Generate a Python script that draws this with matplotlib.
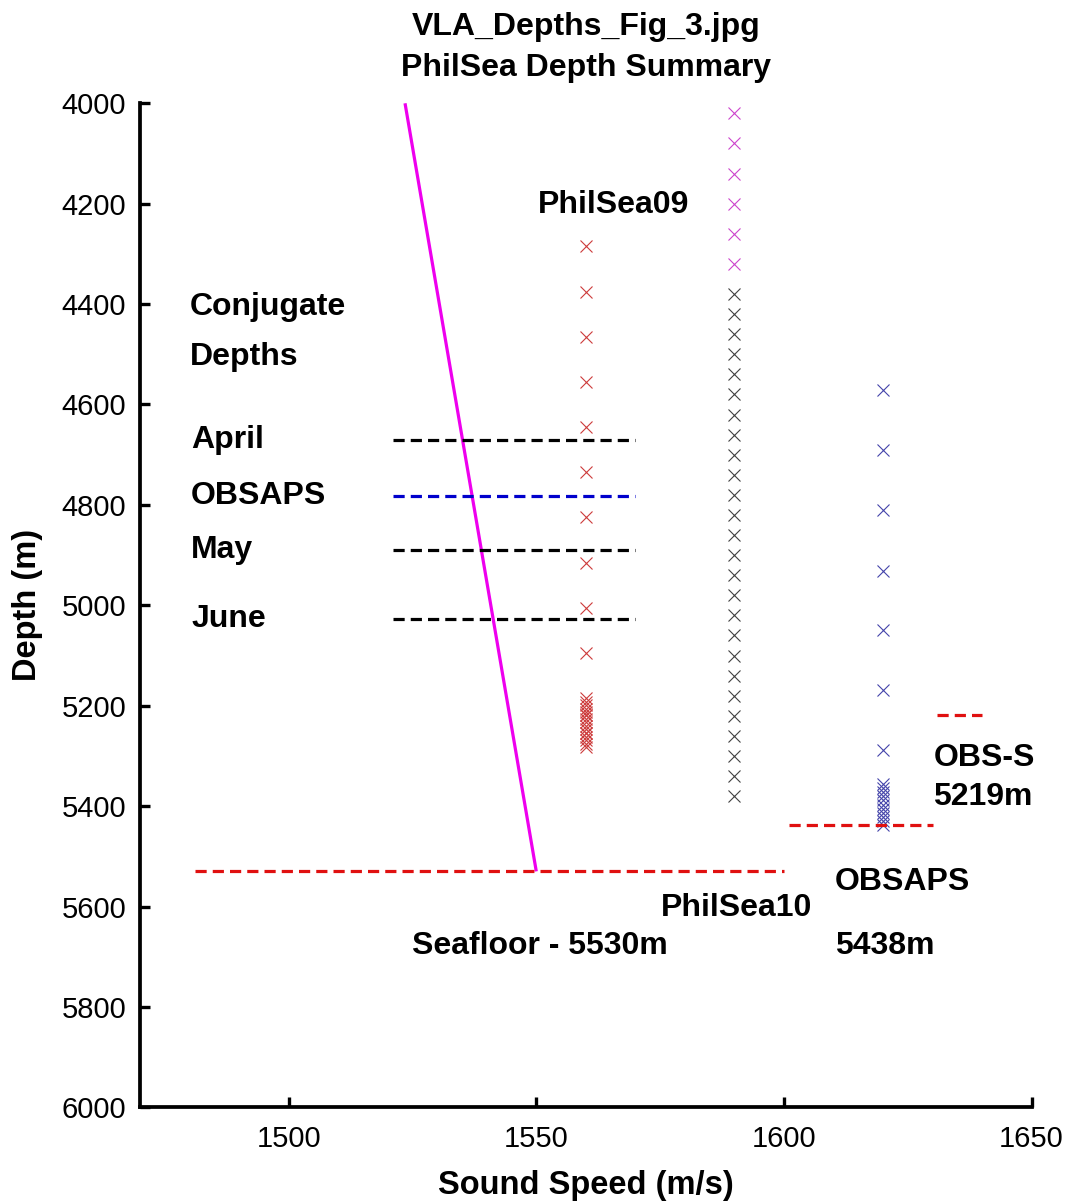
#!/usr/bin/env python3
"""PhilSea depth summary: VLA hydrophone depths, conjugate depths, seafloor."""

import matplotlib
matplotlib.use("Agg")
import matplotlib.pyplot as plt

plt.rcParams["font.family"] = ["Liberation Sans", "DejaVu Sans"]

# sound speed profile near the bottom (m/s, m)
ssp_speed = [1523.5, 1550.0]
ssp_depth = [4000, 5530]

# PhilSea09 hydrophones (plotted at 1560 m/s)
ps09_speed = 1560
ps09_depths = [4285, 4375, 4465, 4555, 4645, 4735, 4825, 4915, 5005, 5095,
               5185, 5192, 5199, 5206, 5213, 5219, 5219, 5226, 5233, 5240,
               5247, 5255, 5255, 5262, 5269, 5276, 5283]

# PhilSea10 hydrophones (plotted at 1590 m/s), upper ones and main array
ps10_speed = 1590
ps10_upper = [4020, 4080, 4140, 4200, 4260, 4320]
ps10_main = [4380 + 40 * i for i in range(26)]

# OBSAPS hydrophones (plotted at 1620 m/s)
obsaps_speed = 1620
obsaps_depths = [4572, 4691, 4811, 4931, 5050, 5169, 5289,
                 5355, 5363, 5372, 5380, 5388, 5397, 5405, 5413, 5422, 5430, 5438]

# conjugate depths
conj_names = ["April", "OBSAPS", "May", "June"]
conj_depths = [4671, 4783, 4890, 5028]
conj_colors = ["black", "#0000cc", "black", "black"]
conj_span = [1521, 1570]

# bottom / instrument depths
seafloor_depth = 5530
seafloor_span = [1481, 1600]
obsaps_bottom = 5438
obsaps_span = [1601, 1630]
obss_depth = 5219
obss_span = [1631, 1640]

fig = plt.figure(figsize=(10.69, 12.01), dpi=100)
ax = fig.add_axes([0.131, 0.078, 0.834, 0.836])

lw = 2.3
dash = (3.5, 1.9)
mk = dict(marker="x", linestyle="none", markersize=8, markeredgewidth=0.8)

ax.plot(ssp_speed, ssp_depth, color="#ee00ee", lw=lw, solid_capstyle="butt")

ax.plot([ps09_speed] * len(ps09_depths), ps09_depths, color="#cc3b3b", **mk)
ax.plot([ps10_speed] * len(ps10_upper), ps10_upper, color="#cc44cc", **mk)
ax.plot([ps10_speed] * len(ps10_main), ps10_main, color="#404040", **mk)
ax.plot([obsaps_speed] * len(obsaps_depths), obsaps_depths, color="#4444aa", **mk)

for name, d, c in zip(conj_names, conj_depths, conj_colors):
    ax.plot(conj_span, [d, d], color=c, lw=lw, dashes=dash)
    ax.text(1480.3, d, name, fontsize=23, fontweight="bold", va="center", ha="left")

red = "#e01010"
ax.plot(seafloor_span, [seafloor_depth] * 2, color=red, lw=lw, dashes=dash)
ax.plot(obsaps_span, [obsaps_bottom] * 2, color=red, lw=lw, dashes=dash)
ax.plot(obss_span, [obss_depth] * 2, color=red, lw=lw, dashes=dash)

txt = dict(fontsize=23, fontweight="bold", va="center", ha="left")
ax.text(1550.3, 4203, "PhilSea09", **txt)
ax.text(1480.0, 4405, "Conjugate", **txt)
ax.text(1480.0, 4505, "Depths", **txt)
ax.text(1630.2, 5305, "OBS-S", **txt)
ax.text(1630.2, 5382, f"{obss_depth}m", **txt)
ax.text(1610.3, 5552, "OBSAPS", **txt)
ax.text(1610.3, 5679, f"{obsaps_bottom}m", **txt)
ax.text(1575.2, 5602, "PhilSea10", **txt)
ax.text(1525.0, 5679, f"Seafloor - {seafloor_depth}m", **txt)

ax.set_xlim(1470, 1650)
ax.set_ylim(6000, 4000)
ax.set_xticks([1500, 1550, 1600, 1650])
ax.set_yticks(range(4000, 6001, 200))
ax.tick_params(direction="in", length=7, width=2.4, labelsize=21)
ax.tick_params(axis="x", pad=13)
ax.tick_params(axis="y", pad=10)
for side in ("top", "right"):
    ax.spines[side].set_visible(False)
for side in ("left", "bottom"):
    ax.spines[side].set_linewidth(2.7)

ax.set_xlabel("Sound Speed (m/s)", fontsize=23.5, fontweight="bold", labelpad=12)
ax.set_ylabel("Depth (m)", fontsize=23.5, fontweight="bold", labelpad=13)
ax.set_title("VLA_Depths_Fig_3.jpg\nPhilSea Depth Summary", fontsize=23,
             fontweight="bold", linespacing=1.45, pad=20)

fig.savefig("out.png", dpi=100)
